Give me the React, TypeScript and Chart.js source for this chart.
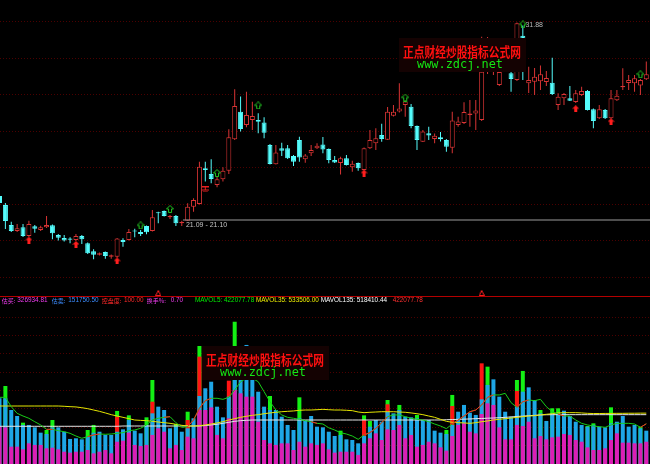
import React, { useEffect, useRef } from "react";
import { Chart, registerables } from "chart.js";

Chart.register(...registerables);

// ---------------- price data (111 trading days, index 0..110) ----------------
const opens = [
  22.41, 21.91, 20.82, 20.49, 20.70, 20.22, 20.75, 20.55, 20.70, 20.81,
  20.28, 20.11, 20.08, 20.00, 20.22, 19.82, 19.39, 19.20, 19.35, 19.09,
  19.09, 20.00, 20.00, 20.52, 20.44, 20.77, 20.49, 21.49, 21.59, 21.24,
  21.31, 20.92, 21.06, 21.82, 21.97, 23.92, 23.61, 23.01, 23.32, 23.79,
  25.50, 27.01, 26.28, 26.55, 26.55, 26.41, 25.19, 24.14, 25.01, 25.01,
  24.59, 25.46, 24.41, 24.74, 25.01, 25.22, 24.97, 24.37, 24.21, 24.46,
  23.97, 24.21, 23.82, 25.01, 25.28, 25.74, 25.48, 26.78, 27.02, 27.37,
  27.28, 26.23, 25.37, 25.83, 25.52, 25.61, 25.46, 25.04, 26.28, 26.39,
  26.83, 26.91, 26.55, 29.39, 29.50, 28.46, 30.10, 29.10, 28.74, 31.15,
  28.56, 28.64, 28.67, 28.63, 28.59, 27.37, 27.74, 27.74, 27.54, 27.92,
  28.14, 27.14, 26.65, 27.10, 26.65, 27.63, 28.34, 28.57, 28.56, 28.43, 28.78,
];
const closes = [
  22.02, 21.04, 20.49, 20.64, 20.22, 20.88, 20.62, 20.70, 20.82, 20.37,
  20.13, 19.97, 20.02, 20.22, 20.04, 19.28, 19.20, 19.28, 19.13, 19.17,
  20.08, 19.89, 20.44, 20.47, 20.33, 20.42, 21.24, 21.46, 21.31, 21.31,
  20.92, 20.99, 21.82, 22.19, 24.00, 23.82, 23.33, 23.32, 23.79, 25.61,
  27.32, 26.06, 26.83, 26.77, 26.46, 25.86, 24.15, 24.78, 24.88, 24.46,
  24.28, 24.51, 24.62, 24.92, 25.15, 24.94, 24.37, 24.24, 24.46, 24.10,
  24.17, 23.92, 25.01, 25.46, 25.56, 25.52, 27.01, 27.01, 27.18, 27.56,
  26.23, 25.46, 25.92, 25.71, 25.70, 25.50, 25.10, 26.53, 26.47, 26.99,
  26.91, 27.07, 29.19, 30.48, 29.94, 29.17, 30.65, 28.79, 31.83, 30.97,
  28.74, 28.92, 29.05, 28.85, 27.97, 27.82, 27.97, 27.61, 28.01, 28.14,
  27.10, 26.50, 27.14, 26.65, 27.74, 27.88, 28.41, 28.74, 28.83, 28.74, 29.05,
];
const highs = [
  22.57, 22.02, 21.00, 20.88, 20.88, 21.06, 20.82, 20.78, 21.31, 20.85,
  20.33, 20.28, 20.15, 20.33, 20.28, 19.87, 19.50, 19.32, 19.38, 19.21,
  20.11, 20.10, 20.60, 20.62, 20.55, 20.80, 21.64, 21.55, 21.61, 21.37,
  21.37, 21.06, 22.01, 22.28, 24.28, 24.28, 24.41, 23.44, 23.97, 26.05,
  28.23, 27.83, 28.10, 27.55, 26.92, 26.70, 25.24, 25.19, 25.31, 25.19,
  24.64, 25.64, 24.70, 25.19, 25.28, 25.63, 25.00, 24.59, 24.55, 24.64,
  24.33, 24.23, 25.05, 26.01, 26.10, 26.35, 27.26, 27.37, 28.56, 27.62,
  27.43, 26.25, 26.01, 26.19, 25.82, 25.90, 25.52, 27.01, 26.73, 27.52,
  27.65, 27.65, 31.10, 31.08, 30.48, 30.10, 31.03, 30.10, 31.88, 31.71,
  29.46, 29.39, 29.53, 29.23, 29.95, 28.01, 28.03, 28.41, 28.19, 28.37,
  28.19, 27.18, 27.37, 27.15, 28.19, 28.19, 29.38, 29.01, 29.01, 28.79, 29.74,
];
const lows = [
  21.97, 20.60, 20.44, 20.44, 20.17, 20.17, 20.40, 20.49, 20.66, 20.04,
  19.97, 19.92, 19.82, 19.95, 19.79, 19.24, 18.95, 19.16, 18.98, 18.98,
  19.05, 19.64, 19.98, 20.15, 20.22, 20.32, 20.47, 20.92, 21.29, 21.15,
  20.77, 20.77, 21.04, 21.55, 21.94, 23.19, 23.10, 22.88, 23.19, 23.61,
  25.46, 25.92, 26.16, 26.01, 25.83, 25.56, 24.12, 24.12, 24.59, 24.43,
  24.04, 24.28, 24.22, 24.59, 24.97, 24.74, 24.19, 24.21, 23.58, 24.07,
  23.73, 23.79, 23.80, 24.97, 24.92, 25.37, 25.46, 26.74, 26.96, 26.73,
  26.10, 24.92, 25.35, 25.46, 25.28, 25.38, 24.82, 24.74, 26.19, 26.34,
  26.19, 26.01, 26.50, 29.06, 29.01, 28.41, 29.17, 28.10, 28.68, 28.74,
  28.03, 27.92, 28.19, 28.41, 27.92, 27.10, 27.37, 27.59, 27.48, 27.86,
  27.07, 26.10, 26.61, 26.61, 26.62, 27.59, 28.19, 28.19, 28.10, 27.92, 28.74,
];

// signal markers
const redArrowDays = [5, 13, 20, 62, 98, 104];
const redArrowPrices = [20.0, 19.76, 18.86, 23.66, 27.17, 26.46];
const greenArrowDays = [24, 29, 37, 44, 69, 89, 109];
const greenArrowPrices = [20.8, 21.7, 23.66, 27.35, 27.78, 31.77, 29.05];
const warnDays = [35];
const warnPrices = [22.76];
const flagDays = [27, 82];
const flagPrices = [17.11, 17.11];

const levelPrice = 21.095;
const levelFromDay = 31.2;
const levelLabel = "21.09 - 21.10";
const highDay = 88;
const highPrice = 31.88;
const highLabel = "31.88";
const priceGrid = [31.92, 29.93, 27.93, 25.94, 23.95, 21.96, 19.97, 17.97];

// ---------------- volume data (万股) ----------------
const greenLevel = [
  null, 81.9, null, null, 43.4, null, null, null, 35.7, 46.2,
  null, null, null, null, null, 35.7, 41.0, null, null, null,
  55.7, null, 51.1, null, null, 49.0, 88.2, null, null, null,
  42.0, null, 54.9, null, 123.9, null, null, null, null, null,
  149.4, null, null, null, null, null, 71.4, null, null, null,
  null, 70.0, null, null, null, null, null, null, 35.0, null,
  null, null, 51.1, 45.2, null, null, 67.2, null, 62.0, null,
  null, 51.5, null, null, null, null, 35.7, 72.5, null, null,
  null, null, null, 102.2, null, null, null, null, 88.2, 97.7,
  null, null, 56.7, null, 58.5, 58.5, null, null, null, null,
  39.9, 42.7, null, null, 59.5, null, null, null, null, 39.2, null,
];
const redLevel = [
  null, null, null, null, null, null, null, null, null, null,
  null, null, null, null, null, null, null, null, null, null,
  49.7, null, null, null, null, null, 65.4, null, null, null,
  null, null, 46.2, null, 112.7, null, null, null, null, 87.5,
  null, null, null, null, null, null, null, null, null, null,
  null, null, null, null, null, null, null, null, null, null,
  null, null, 46.2, null, null, null, 62.7, null, null, null,
  null, null, null, null, null, null, null, 60.9, null, null,
  null, null, 105.7, null, null, null, null, null, 76.7, null,
  null, null, null, null, null, null, null, null, null, null,
  null, null, null, null, null, null, null, null, null, null, null,
];
const blueLevel = [
  69.0, 69.0, 56.7, 50.4, 41.0, 41.0, 38.5, 32.9, 31.5, 38.5,
  38.5, 33.9, 26.3, 27.0, 25.9, 28.7, 32.9, 33.9, 30.5, 30.5,
  33.9, 36.4, 46.2, 35.0, 32.2, 41.0, 53.2, 60.2, 56.7, 37.5,
  39.2, 33.9, 37.5, 48.0, 71.4, 79.5, 86.4, 60.2, 49.0, 70.7,
  91.7, 105.0, 125.0, 99.8, 75.9, 60.2, 56.7, 56.7, 49.7, 41.0,
  35.7, 48.0, 46.2, 50.4, 39.2, 38.5, 33.9, 29.4, 30.5, 25.9,
  25.2, 21.7, 29.4, 39.2, 46.2, 44.4, 54.9, 53.2, 56.7, 49.7,
  49.0, 48.0, 46.2, 46.2, 35.0, 32.9, 31.5, 41.0, 54.9, 62.0,
  53.9, 51.5, 67.9, 83.0, 88.9, 70.7, 54.9, 49.7, 60.2, 75.9,
  80.5, 67.2, 53.2, 45.2, 53.2, 53.2, 56.0, 50.4, 44.4, 41.0,
  39.2, 41.0, 39.2, 38.5, 42.7, 44.4, 50.4, 39.2, 41.0, 37.5, 35.0,
];
const magentaLevel = [
  39.2, 38.5, 18.2, 18.2, 15.4, 21.7, 20.0, 20.0, 16.5, 17.1,
  15.4, 12.9, 11.9, 12.9, 12.9, 14.7, 11.2, 12.9, 14.7, 11.2,
  23.4, 24.5, 32.9, 20.0, 18.9, 20.0, 30.5, 37.5, 33.9, 16.5,
  20.0, 14.7, 28.7, 27.0, 56.7, 56.7, 59.5, 30.5, 27.0, 48.0,
  77.7, 74.2, 70.7, 70.7, 44.4, 25.2, 21.7, 20.0, 21.7, 21.7,
  14.7, 23.4, 18.2, 21.7, 20.0, 21.7, 15.4, 11.9, 12.9, 12.9,
  12.9, 9.5, 21.7, 27.0, 32.2, 25.2, 36.4, 35.7, 41.0, 27.0,
  30.5, 18.2, 20.0, 23.4, 21.7, 17.5, 14.0, 29.4, 41.0, 42.7,
  33.9, 32.2, 52.5, 63.7, 62.0, 38.5, 25.9, 25.9, 41.0, 39.9,
  44.4, 27.0, 29.4, 25.9, 28.0, 28.7, 31.5, 30.5, 25.2, 23.4,
  17.5, 14.7, 14.7, 16.5, 25.2, 32.2, 22.4, 22.4, 21.7, 21.7, 23.4,
];
const mavol5 = [
  70.0, 70.0, 60.2, 53.2, 50.4, 48.0, 44.4, 41.0, 36.4, 36.4,
  35.0, 33.9, 32.2, 29.4, 27.0, 28.7, 30.5, 31.5, 31.2, 31.5,
  32.2, 32.9, 35.0, 35.7, 37.5, 41.0, 46.2, 48.0, 49.0, 49.7,
  43.4, 38.5, 39.2, 46.2, 58.5, 66.5, 69.0, 69.0, 67.9, 70.0,
  77.7, 86.4, 90.0, 90.0, 86.4, 75.9, 65.4, 56.7, 51.5, 49.0,
  48.0, 46.9, 45.5, 44.4, 42.7, 42.0, 38.0, 35.7, 32.9, 31.5,
  29.4, 25.9, 30.5, 32.9, 37.5, 43.4, 49.7, 51.5, 51.5, 49.7,
  48.0, 46.9, 46.2, 44.4, 42.0, 39.9, 37.1, 42.0, 46.2, 50.4,
  54.9, 56.7, 62.0, 70.0, 72.5, 72.5, 74.2, 64.4, 59.5, 65.4,
  67.2, 66.5, 67.9, 60.2, 54.9, 52.5, 50.4, 50.4, 46.2, 42.7,
  41.0, 39.9, 39.2, 38.5, 41.0, 42.7, 42.7, 42.7, 42.0, 38.5, 42.2,
];
const mavol35 = [
  60.9, 60.9, 60.9, 60.9, 60.9, 60.9, 60.9, 60.9, 60.9, 60.9,
  60.9, 60.6, 60.2, 59.9, 59.1, 58.1, 56.7, 55.3, 53.6, 51.8,
  50.4, 49.0, 47.6, 46.2, 45.8, 45.5, 44.8, 44.1, 43.4, 42.7,
  41.7, 40.6, 39.9, 39.9, 40.2, 41.0, 42.0, 43.1, 44.4, 46.2,
  47.6, 49.0, 50.1, 51.1, 51.8, 52.8, 53.6, 54.3, 54.9, 55.3,
  55.7, 56.4, 56.7, 56.7, 57.0, 57.4, 57.0, 56.7, 56.7, 56.4,
  56.0, 54.6, 53.9, 54.3, 54.6, 54.9, 54.9, 54.9, 54.6, 54.3,
  53.6, 52.8, 51.8, 50.4, 49.0, 46.9, 44.8, 43.8, 43.4, 43.1,
  42.7, 43.4, 44.4, 45.2, 46.2, 46.9, 47.6, 48.3, 49.0, 49.7,
  50.4, 50.7, 51.5, 52.2, 52.8, 53.6, 53.9, 53.9, 53.9, 53.6,
  53.2, 53.0, 53.0, 53.1, 53.1, 53.2, 53.2, 53.3, 53.3, 53.4, 53.4,
];
const mavol135 = [
  39.6, 39.6, 39.6, 39.6, 39.6, 39.6, 39.6, 39.6, 39.6, 39.6,
  39.6, 39.6, 39.6, 39.6, 39.6, 39.6, 39.6, 39.6, 39.6, 39.6,
  39.6, 39.9, 39.9, 39.9, 39.9, 39.9, 39.9, 39.9, 39.9, 39.9,
  39.9, 39.9, 39.9, 39.9, 39.9, 40.4, 41.0, 41.7, 42.7, 43.8,
  44.8, 45.5, 45.9, 46.2, 46.2, 46.2, 46.2, 46.2, 46.2, 46.2,
  46.2, 46.2, 46.2, 46.2, 46.2, 46.2, 46.2, 46.2, 46.2, 46.2,
  46.2, 46.2, 46.2, 46.2, 46.2, 46.2, 46.2, 46.2, 46.2, 46.2,
  46.2, 46.2, 46.2, 46.2, 46.2, 46.2, 46.5, 46.7, 46.9, 47.1,
  47.3, 47.6, 47.8, 48.1, 48.3, 48.6, 49.0, 49.4, 49.9, 50.3,
  50.7, 51.1, 51.5, 51.7, 51.8, 51.8, 51.8, 51.8, 51.8, 51.8,
  51.8, 51.8, 51.8, 51.8, 51.8, 51.8, 51.8, 51.8, 51.8, 51.8, 51.8,
];
const mavol5RedDays = [
  8, 9, 15, 16, 17, 28, 29, 32, 33, 34, 35, 36, 53, 54, 62, 63, 64, 65, 66,
  77, 78, 79, 80, 81, 82, 83, 84, 88, 89, 90, 95, 96, 109, 110,
];
const volGrid = [19.5, 38.7, 58.0, 77.2, 96.4, 115.6, 134.8, 154.0];

const headerLabels = ["估买:", "估卖:", "控盘度:", "换手%:", "MAVOL5:", "MAVOL35:", "MAVOL135:", ""];
const headerValues = ["326934.81", "151750.50", "100.00", "0.70", "422077.78", "533506.00", "518410.44", "422077.78"];

const WM_TITLE = "正点财经炒股指标公式网";
const WM_URL = "www.zdcj.net";

// ---------------- layout / style constants ----------------
const X_MIN = 0.085;
const X_MAX = 110.629;
const PRICE_MIN = 16.947;
const PRICE_MAX = 33.103;
const VOL_MAX = 165.9;
const UP_COLOR = "#d83434";
const DOWN_COLOR = "#54fcfc";
const GRID_COLOR = "rgba(95, 0, 0, 0.8)";
const HEADER_COLORS = ["#f03cf0", "#3c8cff", "#ff2a2a", "#f03cf0", "#00f000", "#f0f000", "#ffffff", "#ff3030"];
// label x, value x (page px); for latin labels the value follows the label directly
const HEADER_LABEL_X = [1.7, 51.7, 101.7, 146.7, 195, 256, 320.7, 392.7];
const HEADER_VALUE_X = [17.3, 68.3, 124, 170.7, -1, -1, -1, 392.7];
const HEADER_Y = 3.5;

function makeGlyph(w: number, h: number, draw: (g: CanvasRenderingContext2D) => void) {
  const c = document.createElement("canvas");
  c.width = w;
  c.height = h;
  const g = c.getContext("2d") as CanvasRenderingContext2D;
  draw(g);
  return c;
}

function drawWatermark(ctx: CanvasRenderingContext2D, left: number, top: number) {
  ctx.save();
  ctx.fillStyle = "#140202";
  ctx.fillRect(left, top, 127, 34);
  ctx.textAlign = "left";
  ctx.textBaseline = "middle";
  ctx.font = 'bold 11px "Noto Sans CJK SC", sans-serif';
  const w1 = ctx.measureText(WM_TITLE).width || 118;
  ctx.save();
  ctx.translate(left + 4, top + 13.8);
  ctx.scale(118 / w1, 1.2);
  ctx.fillStyle = "#ff1010";
  ctx.fillText(WM_TITLE, 0, 0);
  ctx.restore();
  ctx.font = '12px "DejaVu Sans Mono", monospace';
  const w2 = ctx.measureText(WM_URL).width || 86;
  ctx.save();
  ctx.translate(left + 18, top + 26.5);
  ctx.scale(86 / w2, 1);
  ctx.fillStyle = "#14e614";
  ctx.fillText(WM_URL, 0, 0);
  ctx.restore();
  ctx.restore();
}

const pts = (days: number[], vals: number[]) => days.map((d, k) => ({ x: d, y: vals[k] }));

export default function App() {
  const topRef = useRef<HTMLCanvasElement>(null);
  const volRef = useRef<HTMLCanvasElement>(null);

  useEffect(() => {
    const redArrow = makeGlyph(7, 7, (g) => {
      g.fillStyle = "#ff1e1e";
      g.beginPath();
      g.moveTo(3.5, 0);
      g.lineTo(7, 3.5);
      g.lineTo(5, 3.5);
      g.lineTo(5, 7);
      g.lineTo(2, 7);
      g.lineTo(2, 3.5);
      g.lineTo(0, 3.5);
      g.closePath();
      g.fill();
    });
    const greenArrow = makeGlyph(8, 8, (g) => {
      g.strokeStyle = "#22c822";
      g.lineWidth = 1;
      g.beginPath();
      g.moveTo(4, 0.5);
      g.lineTo(7.5, 4);
      g.lineTo(5.5, 4);
      g.lineTo(5.5, 7.5);
      g.lineTo(2.5, 7.5);
      g.lineTo(2.5, 4);
      g.lineTo(0.5, 4);
      g.closePath();
      g.stroke();
    });
    const warnMark = makeGlyph(7, 6, (g) => {
      g.fillStyle = "#e82020";
      g.fillRect(0, 0, 7, 1);
      g.fillRect(3, 1, 1, 2);
      g.fillRect(0, 3, 7, 1);
      g.fillRect(1, 5, 5, 1);
    });
    const flagMark = makeGlyph(6, 6, (g) => {
      g.strokeStyle = "#ff2020";
      g.lineWidth = 1;
      g.beginPath();
      g.moveTo(3, 0.5);
      g.lineTo(5.5, 5.5);
      g.lineTo(0.5, 5.5);
      g.closePath();
      g.stroke();
    });

    const up = opens.map((o, i) => closes[i] >= o);
    const candleColor = up.map((u) => (u ? UP_COLOR : DOWN_COLOR));

    const xScale: any = { type: "linear", min: X_MIN, max: X_MAX, display: false, offset: false };

    const topDecor = {
      id: "topDecor",
      afterDraw(chart: any) {
        const { ctx } = chart;
        const x = chart.scales.x;
        const y = chart.scales.y;
        ctx.save();
        ctx.strokeStyle = "#b40000";
        ctx.lineWidth = 1;
        ctx.beginPath();
        ctx.moveTo(0, 296.5);
        ctx.lineTo(chart.width, 296.5);
        ctx.stroke();
        ctx.font = '7px "Liberation Sans", Arial, sans-serif';
        ctx.fillStyle = "#c4c4c4";
        ctx.textAlign = "left";
        ctx.textBaseline = "top";
        ctx.fillText(levelLabel, x.getPixelForValue(levelFromDay) + 3, y.getPixelForValue(levelPrice) + 2);
        ctx.fillStyle = "#b8b8b8";
        ctx.fillText(highLabel, x.getPixelForValue(highDay) + 8.5, y.getPixelForValue(highPrice) - 0.5);
        drawWatermark(ctx, 399, 38);
        ctx.restore();
      },
    };

    const top = new Chart(topRef.current as HTMLCanvasElement, {
      type: "bar",
      data: {
        datasets: [
          {
            type: "bar",
            data: opens.map((_, i) => ({ x: i, y: [lows[i], highs[i]] })),
            backgroundColor: candleColor,
            barThickness: 1,
            grouped: false,
            inflateAmount: 0,
            minBarLength: 1,
            order: 6,
          } as any,
          {
            type: "bar",
            data: opens.map((o, i) => ({ x: i, y: [o, closes[i]] })),
            backgroundColor: up.map((u) => (u ? "#000000" : DOWN_COLOR)),
            borderColor: candleColor,
            borderWidth: 1,
            borderSkipped: false,
            barThickness: 5,
            grouped: false,
            inflateAmount: 0,
            minBarLength: 1,
            order: 5,
          } as any,
          {
            type: "line",
            data: [
              { x: levelFromDay, y: levelPrice },
              { x: opens.length + 1, y: levelPrice },
            ],
            borderColor: "#9c9c9c",
            borderWidth: 1,
            pointRadius: 0,
            order: 4,
          } as any,
          {
            type: "line",
            data: pts(redArrowDays, redArrowPrices),
            showLine: false,
            pointStyle: redArrow,
            pointRadius: 4,
            order: 1,
          } as any,
          {
            type: "line",
            data: pts(greenArrowDays, greenArrowPrices),
            showLine: false,
            pointStyle: greenArrow,
            pointRadius: 4,
            order: 1,
          } as any,
          {
            type: "line",
            data: pts(warnDays, warnPrices),
            showLine: false,
            pointStyle: warnMark,
            pointRadius: 4,
            order: 1,
          } as any,
          {
            type: "line",
            data: pts(flagDays, flagPrices),
            showLine: false,
            pointStyle: flagMark,
            pointRadius: 3,
            order: 1,
          } as any,
        ],
      },
      options: {
        animation: false,
        responsive: false,
        devicePixelRatio: 1,
        events: [],
        layout: { autoPadding: false, padding: { left: 0, right: 0, top: 0, bottom: 1 } },
        plugins: { legend: { display: false }, tooltip: { enabled: false } },
        scales: {
          x: xScale,
          y: {
            type: "linear",
            min: PRICE_MIN,
            max: PRICE_MAX,
            beginAtZero: false,
            display: true,
            ticks: { display: false },
            grid: { color: GRID_COLOR, drawTicks: false, lineWidth: 1 },
            border: { display: false, dash: [1, 2] },
            afterBuildTicks: (s: any) => {
              s.ticks = priceGrid.map((v) => ({ value: v }));
            },
          },
        },
      } as any,
      plugins: [topDecor],
    });

    const volDecor = {
      id: "volDecor",
      afterDraw(chart: any) {
        const { ctx } = chart;
        ctx.save();
        ctx.textAlign = "left";
        ctx.textBaseline = "middle";
        const latin = '6.4px "Liberation Sans", Arial, sans-serif';
        headerValues.forEach((val, k) => {
          ctx.fillStyle = HEADER_COLORS[k];
          const lab = headerLabels[k];
          if (/[\u4e00-\u9fff]/.test(lab)) {
            ctx.font = '6px "Noto Sans CJK SC", sans-serif';
            ctx.fillText(lab, HEADER_LABEL_X[k], HEADER_Y);
            ctx.font = latin;
            ctx.fillText(val, HEADER_VALUE_X[k], HEADER_Y);
          } else {
            ctx.font = latin;
            ctx.fillText(lab ? lab + " " + val : val, HEADER_LABEL_X[k], HEADER_Y);
          }
        });
        drawWatermark(ctx, 202, 49);
        ctx.restore();
      },
    };

    const redSet = new Set(mavol5RedDays);
    const levelPts = (arr: (number | null)[]) =>
      arr.map((v, i) => ({ x: i, y: v })).filter((p) => p.y !== null);
    const barCommon = { type: "bar", barThickness: 4, grouped: false, inflateAmount: 0, borderWidth: 0 };
    const lineCommon = { type: "line", borderWidth: 1, pointRadius: 0, tension: 0, spanGaps: false };

    const vol = new Chart(volRef.current as HTMLCanvasElement, {
      type: "bar",
      data: {
        datasets: [
          { ...barCommon, data: levelPts(greenLevel), backgroundColor: "#14f014", order: 20 } as any,
          { ...barCommon, data: levelPts(redLevel), backgroundColor: "#ff1414", order: 19 } as any,
          { ...barCommon, data: levelPts(blueLevel), backgroundColor: "#1ea6e6", order: 18 } as any,
          { ...barCommon, data: levelPts(magentaLevel), backgroundColor: "#dc1eb4", order: 17 } as any,
          { ...lineCommon, data: mavol135.map((v, i) => ({ x: i, y: v })), borderColor: "#e6e6e6", order: 4 } as any,
          { ...lineCommon, data: mavol35.map((v, i) => ({ x: i, y: v })), borderColor: "#e6e600", order: 3 } as any,
          { ...lineCommon, data: mavol5.map((v, i) => ({ x: i, y: v })), borderColor: "#18cc18", order: 2 } as any,
          {
            ...lineCommon,
            data: mavol5.map((v, i) => ({ x: i, y: redSet.has(i) ? v : null })),
            borderColor: "#ff2020",
            order: 1,
          } as any,
        ],
      },
      options: {
        animation: false,
        responsive: false,
        devicePixelRatio: 1,
        events: [],
        layout: { autoPadding: false, padding: { left: 0, right: 0, top: 9, bottom: 0 } },
        plugins: { legend: { display: false }, tooltip: { enabled: false } },
        scales: {
          x: xScale,
          y: {
            type: "linear",
            min: 0,
            max: VOL_MAX,
            display: true,
            ticks: { display: false },
            grid: { color: GRID_COLOR, drawTicks: false, lineWidth: 1 },
            border: { display: false, dash: [1, 2] },
            afterBuildTicks: (s: any) => {
              s.ticks = volGrid.map((v) => ({ value: v }));
            },
          },
        },
      } as any,
      plugins: [volDecor],
    });

    return () => {
      top.destroy();
      vol.destroy();
    };
  }, []);

  return (
    <div style={{ position: "relative", width: 650, height: 464, background: "#000", overflow: "hidden" }}>
      <style>{`html,body{margin:0;padding:0;background:#000;}`}</style>
      <canvas
        ref={topRef}
        width={650}
        height={297}
        style={{ position: "absolute", left: 0, top: 0, width: 650, height: 297 }}
      />
      <canvas
        ref={volRef}
        width={650}
        height={167}
        style={{ position: "absolute", left: 0, top: 297, width: 650, height: 167 }}
      />
    </div>
  );
}
